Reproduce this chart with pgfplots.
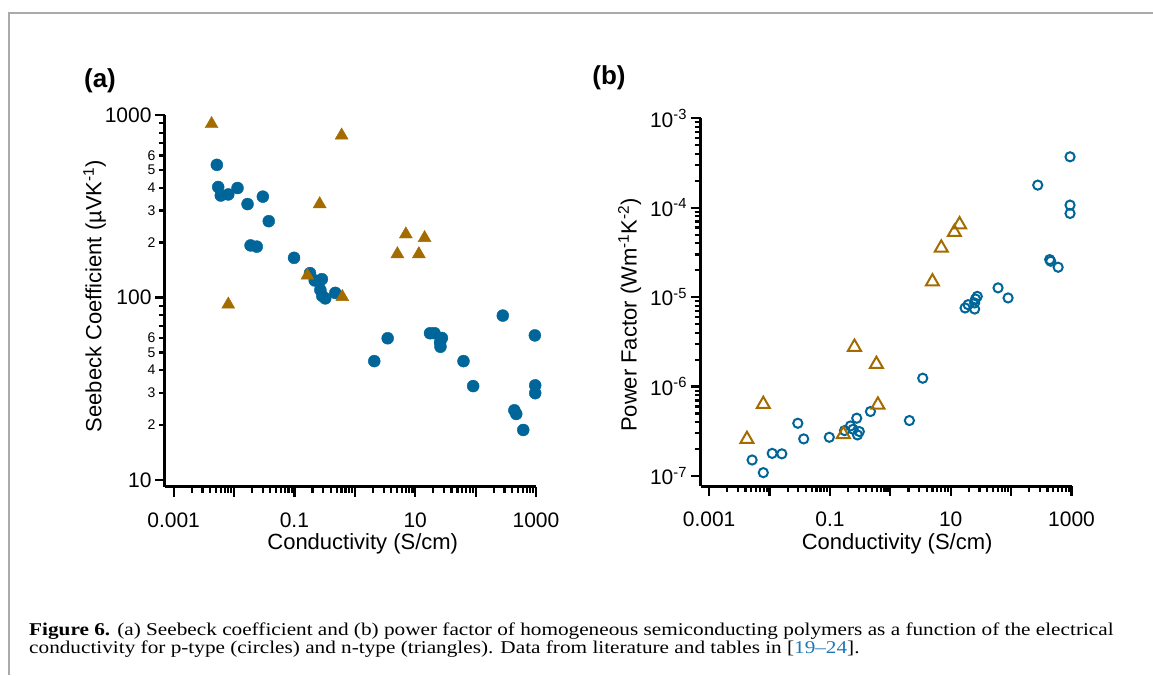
\documentclass[border=0pt]{standalone}
\usepackage{pgfplots}
\pgfplotsset{compat=1.18}
\usepackage{fontspec}
\setmainfont{Liberation Sans}
\newfontfamily\capfont{Liberation Serif}[FakeStretch=1.18]

\definecolor{pblue}{RGB}{0,102,154}
\definecolor{nbrown}{RGB}{163,107,0}
\definecolor{framegray}{RGB}{170,170,170}
\definecolor{linkblue}{RGB}{30,120,180}

\begin{document}
\begin{tikzpicture}
\useasboundingbox (0pt,0pt) rectangle (1153pt,675pt);
\draw[framegray, line width=1.5pt] (9pt,0pt) -- (9pt,662pt) -- (1153pt,662pt);

% (a) Seebeck coefficient
\begin{loglogaxis}[
  scale only axis, width=371pt, height=372pt, clip=false,
  at={(165pt,188pt)}, anchor=south west,
  axis x line*=bottom, axis y line*=left,
  axis line style={line width=3pt},
  major tick style={black, line width=2.2pt},
  minor tick style={black, line width=2.2pt},
  tick align=outside, major tick length=10pt, minor tick length=6pt,
  xmin=7.2e-4, xmax=1000,
  xtick={0.001,0.01,0.1,1,10,100,1000},
  xticklabels={0.001,,0.1,,10,,1000},
  minor xtick={0.002,0.003,0.004,0.005,0.006,0.007,0.008,0.009,
               0.02,0.03,0.04,0.05,0.06,0.07,0.08,0.09,
               0.2,0.3,0.4,0.5,0.6,0.7,0.8,0.9,
               2,3,4,5,6,7,8,9,20,30,40,50,60,70,80,90,
               200,300,400,500,600,700,800,900},
  ymin=9.155, ymax=1000,
  ytick={10,100,1000}, yticklabels={10,100,1000},
  minor ytick={20,30,40,50,60,70,80,90,200,300,400,500,600,700,800,900},
  extra y ticks={20,30,40,50,60,200,300,400,500,600},
  extra y tick labels={2,3,4,5,6,2,3,4,5,6},
  extra y tick style={major tick length=6pt,
    yticklabel style={font=\fontsize{14}{16}\selectfont}},
  tick label style={font=\fontsize{21}{24}\selectfont},
  xticklabel style={yshift=-12pt},
  label style={font=\fontsize{22}{25}\selectfont},
  xlabel={Conductivity (S/cm)},
  ylabel={Seebeck Coefficient (µVK\textsuperscript{-1})},
  xlabel style={at={(axis description cs:0.533,-0.153)}, anchor=center},
  ylabel style={at={(axis description cs:-0.19,0.513)}, anchor=center},
]
\addplot[only marks, mark=*, mark size=6pt, mark options={draw=pblue, fill=pblue}] coordinates {
  (0.0052,533) (0.00547,403) (0.00604,362) (0.00803,367) (0.01143,398)
  (0.01675,325) (0.030,357) (0.0376,262) (0.0188,193) (0.0238,190)
  (0.0986,165) (0.181,136) (0.217,124) (0.285,126) (0.269,110)
  (0.289,102) (0.324,98.9) (0.475,106) (2.10,44.8) (3.50,59.8)
  (17.6,63.7) (20.9,63.7) (27.7,60) (25.8,56.6) (26.2,53.7)
  (63,44.8) (91,32.7) (282,79.6) (957,62) (970,33) (970,29.9)
  (438,24.1) (471,23.0) (615,18.8)
};
\addplot[only marks, mark=triangle*, mark size=7.5pt, mark options={draw=nbrown, fill=nbrown}] coordinates {
  (0.00425,893) (0.605,773) (0.262,325) (7.0,222) (14.3,212)
  (5.07,173) (11.5,173) (0.164,132) (0.622,100.7) (0.00803,91.6)
};
\end{loglogaxis}

% (b) power factor
\begin{loglogaxis}[
  scale only axis, width=371pt, height=367.7pt, clip=false,
  at={(700.5pt,189pt)}, anchor=south west,
  axis x line*=bottom, axis y line*=left,
  axis line style={line width=3pt},
  major tick style={black, line width=2.2pt},
  minor tick style={black, line width=2.2pt},
  tick align=outside, major tick length=10pt, minor tick length=6pt,
  xmin=7.2e-4, xmax=1000,
  xtick={0.001,0.01,0.1,1,10,100,1000},
  xticklabels={0.001,,0.1,,10,,1000},
  minor xtick={0.002,0.003,0.004,0.005,0.006,0.007,0.008,0.009,
               0.02,0.03,0.04,0.05,0.06,0.07,0.08,0.09,
               0.2,0.3,0.4,0.5,0.6,0.7,0.8,0.9,
               2,3,4,5,6,7,8,9,20,30,40,50,60,70,80,90,
               200,300,400,500,600,700,800,900},
  ymin=7.73e-8, ymax=1e-3,
  ytick={1e-7,1e-6,1e-5,1e-4,1e-3},
  yticklabels={10\textsuperscript{-7},10\textsuperscript{-6},10\textsuperscript{-5},10\textsuperscript{-4},10\textsuperscript{-3}},
  minor ytick={2e-7,3e-7,4e-7,5e-7,6e-7,7e-7,8e-7,9e-7,
               2e-6,3e-6,4e-6,5e-6,6e-6,7e-6,8e-6,9e-6,
               2e-5,3e-5,4e-5,5e-5,6e-5,7e-5,8e-5,9e-5,
               2e-4,3e-4,4e-4,5e-4,6e-4,7e-4,8e-4,9e-4},
  tick label style={font=\fontsize{21}{24}\selectfont},
  xticklabel style={yshift=-12pt},
  label style={font=\fontsize{22}{25}\selectfont},
  xlabel={Conductivity (S/cm)},
  ylabel={Power Factor (Wm\textsuperscript{-1}K\textsuperscript{-2})},
  xlabel style={at={(axis description cs:0.53,-0.158)}, anchor=center},
  ylabel style={at={(axis description cs:-0.191,0.465)}, anchor=center},
]
\addplot[only marks, mark=o, mark size=4.6pt, mark options={draw=pblue, line width=2pt}] coordinates {
  (0.00515,1.51e-7) (0.00789,1.09e-7) (0.01107,1.79e-7) (0.016,1.77e-7)
  (0.0294,3.89e-7) (0.0368,2.60e-7) (0.0977,2.71e-7) (0.1746,3.22e-7)
  (0.219,3.63e-7) (0.278,4.43e-7) (0.286,2.88e-7) (0.307,3.14e-7)
  (0.242,3.33e-7) (0.469,5.26e-7) (2.07,4.17e-7) (3.44,1.24e-6)
  (17.3,7.57e-6) (19.4,8.24e-6) (24.9,7.36e-6) (24.9,8.61e-6)
  (25.7,9.53e-6) (27.5,1.02e-5) (60.8,1.27e-5) (89.1,9.8e-6)
  (276,1.79e-4) (435,2.63e-5) (453,2.52e-5) (601,2.16e-5)
  (946,3.71e-4) (946,1.07e-4) (946,8.63e-5)
};
\addplot[only marks, mark=triangle, mark size=7.5pt, mark options={draw=nbrown, line width=2pt}] coordinates {
  (0.00423,2.58e-7) (0.00789,6.35e-7) (0.167,2.93e-7) (0.255,2.77e-6)
  (0.589,1.78e-6) (0.623,6.25e-7) (4.98,1.49e-5) (6.98,3.56e-5)
  (11.5,5.32e-5) (14.0,6.49e-5)
};
\end{loglogaxis}

\node[font=\bfseries\fontsize{26}{29}\selectfont] at (100pt,594pt) {(a)};
\node[font=\bfseries\fontsize{26}{29}\selectfont] at (609pt,597pt) {(b)};

\node[anchor=base west, inner sep=0pt, font=\capfont\fontsize{18}{20}\selectfont] at (29pt,40pt)
  {\textbf{Figure 6.} (a) Seebeck coefficient and (b) power factor of homogeneous semiconducting polymers as a function of the electrical};
\node[anchor=base west, inner sep=0pt, font=\capfont\fontsize{18}{20}\selectfont] at (29pt,22pt)
  {conductivity for p-type (circles) and n-type (triangles). Data from literature and tables in [\textcolor{linkblue}{19–24}].};
\end{tikzpicture}
\end{document}
